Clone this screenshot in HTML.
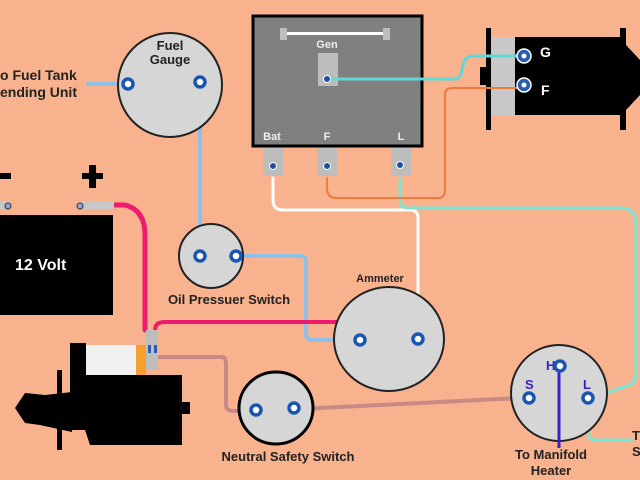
<!DOCTYPE html>
<html><head><style>
body{margin:0;width:640px;height:480px;overflow:hidden;background:#F8B28E}
svg{position:absolute;left:0;top:0}
text{font-family:"Liberation Sans",sans-serif;font-weight:bold}
</style></head><body>
<svg width="640" height="480" viewBox="0 0 640 480">
<rect width="640" height="480" fill="#F8B28E"/>
<!-- wires -->
<g fill="none" stroke-linecap="round" stroke-linejoin="round">
<path d="M88 84 H125" stroke="#8FC0EA" stroke-width="4"/>
<path d="M200 95 V248" stroke="#8FC0EA" stroke-width="4"/>
<path d="M243 256 H300 Q306 256 306 262 V334 Q306 340 312 340 H352" stroke="#8FC0EA" stroke-width="4"/>
<path d="M273 178 V200 Q273 210 283 210 H410 Q418 210 418 218 V325" stroke="#fff" stroke-width="3"/>
<path d="M400 178 V200 Q400 208 408 208 H620 Q636 208 636 224 V375 Q636 385 620 388 L596 397" stroke="#7FE6D6" stroke-width="3"/>
<path d="M588 408 V432 Q588 440 596 440 H632" stroke="#7FE6D6" stroke-width="3"/>
<path d="M112 205 H125 Q145 210 145 235 V330" stroke="#EE1C6E" stroke-width="5"/>
<path d="M155 336 V330 Q155 322 165 322 H362" stroke="#EE1C6E" stroke-width="4"/>
<path d="M158 357 H222 Q226 357 226 365 V405 Q226 411 234 411 H250" stroke="#C98A86" stroke-width="4"/>
<path d="M300 409 L520 398" stroke="#C98A86" stroke-width="4"/>
<path d="M327 178 V188 Q327 198 337 198 H438 Q445 198 445 190 V95 Q445 88 452 88 H480" stroke="#F07A3C" stroke-width="2"/>
</g>
<!-- fuel gauge -->
<circle cx="170" cy="85" r="52" fill="#D6D6D6" stroke="#222" stroke-width="2"/>
<text x="170" y="50" font-size="13" text-anchor="middle" fill="#222">Fuel</text>
<text x="170" y="64" font-size="13" text-anchor="middle" fill="#222">Gauge</text>
<text x="0" y="80" font-size="14" fill="#222">o Fuel Tank</text>
<text x="0" y="97" font-size="14" fill="#222">ending Unit</text>
<!-- regulator -->
<rect x="253" y="16" width="169" height="130" fill="#808080" stroke="#000" stroke-width="3"/>
<rect x="280" y="28" width="7" height="12" fill="#BEBEBE"/><rect x="383" y="28" width="7" height="12" fill="#BEBEBE"/>
<rect x="287" y="32" width="96" height="3" fill="#fff"/>
<text x="327" y="48" font-size="11" text-anchor="middle" fill="#eee">Gen</text>
<rect x="318" y="53" width="20" height="33" fill="#BDBDBD"/>
<text x="272" y="140" font-size="11" text-anchor="middle" fill="#eee">Bat</text>
<text x="327" y="140" font-size="11" text-anchor="middle" fill="#eee">F</text>
<text x="401" y="140" font-size="11" text-anchor="middle" fill="#eee">L</text>
<rect x="263" y="148" width="20" height="28" fill="#BDBDBD"/>
<rect x="317" y="148" width="20" height="28" fill="#BDBDBD"/>
<rect x="391" y="148" width="20" height="28" fill="#BDBDBD"/>
<!-- generator -->
<rect x="486" y="28" width="5" height="102" fill="#000"/>
<rect x="480" y="67" width="8" height="18" fill="#000"/>
<rect x="491" y="37" width="24" height="78" fill="#C8C8C8"/>
<rect x="515" y="37" width="110" height="78" fill="#000"/>
<rect x="620" y="28" width="6" height="102" fill="#000"/>
<polygon points="626,45 640,60 640,95 626,110" fill="#000"/>
<g fill="none" stroke-linecap="round" stroke-linejoin="round">
<path d="M330 79 H455 Q460 79 462 70 L464 62 Q466 56 474 56 H518" stroke="#5FD9D6" stroke-width="3"/>
<path d="M478 88 H517" stroke="#F07A3C" stroke-width="2"/>
</g>
<g fill="#1F4FA0" stroke="#fff" stroke-width="1"><circle cx="273" cy="166" r="3.5"/><circle cx="327" cy="166" r="3.5"/><circle cx="400" cy="165" r="3.5"/><circle cx="327" cy="79" r="3.5"/></g>
<g fill="#2A5DB0" stroke="#fff" stroke-width="1.5"><circle cx="524" cy="56" r="7"/><circle cx="524" cy="85" r="7"/></g>
<circle cx="524" cy="56" r="2.5" fill="#fff"/><circle cx="524" cy="85" r="2.5" fill="#fff"/>
<text x="540" y="57" font-size="14" fill="#fff" font-family="Liberation Serif">G</text>
<text x="541" y="95" font-size="14" fill="#fff" font-family="Liberation Serif">F</text>
<!-- battery -->
<rect x="0" y="215" width="113" height="100" fill="#000"/>
<text x="15" y="270" font-size="16" fill="#fff" font-weight="normal">12 Volt</text>
<rect x="0" y="173" width="11" height="6" fill="#000"/>
<rect x="82" y="173" width="21" height="6" fill="#000"/><rect x="89" y="165" width="7" height="23" fill="#000"/>
<rect x="0" y="202" width="10" height="7" fill="#C8C8C8"/><circle cx="8" cy="206" r="3" fill="#8AA8E0" stroke="#333"/>
<rect x="82" y="202" width="32" height="7" fill="#C8C8C8"/><circle cx="80" cy="206" r="3" fill="#8AA8E0" stroke="#333"/>
<!-- oil pressure switch -->
<circle cx="211" cy="256" r="32" fill="#D6D6D6" stroke="#222" stroke-width="2"/>
<text x="229" y="304" font-size="13" text-anchor="middle" fill="#222">Oil Pressuer Switch</text>
<!-- ammeter -->
<ellipse cx="389" cy="339" rx="55" ry="52" fill="#D6D6D6" stroke="#222" stroke-width="2"/>
<text x="380" y="282" font-size="11" text-anchor="middle" fill="#222">Ammeter</text>
<!-- NSS -->
<ellipse cx="276" cy="408" rx="37" ry="36" fill="#D6D6D6" stroke="#000" stroke-width="3"/>
<text x="288" y="461" font-size="13" text-anchor="middle" fill="#222">Neutral Safety Switch</text>
<!-- ignition -->
<circle cx="559" cy="393" r="48" fill="#D6D6D6" stroke="#222" stroke-width="2"/>
<path d="M559 372 V448" stroke="#3A1ECC" stroke-width="3"/>
<text x="546" y="370" font-size="13" fill="#3A1ECC">H</text>
<text x="525" y="389" font-size="13" fill="#3A1ECC">S</text>
<text x="583" y="389" font-size="13" fill="#3A1ECC">L</text>
<text x="551" y="459" font-size="13" text-anchor="middle" fill="#222">To Manifold</text>
<text x="551" y="475" font-size="13" text-anchor="middle" fill="#222">Heater</text>
<text x="632" y="440" font-size="13" fill="#222">T</text>
<text x="632" y="456" font-size="13" fill="#222">S</text>
<!-- terminals -->
<g fill="#fff" stroke="#1A55B0" stroke-width="3.5">
<circle cx="128" cy="84" r="5"/><circle cx="200" cy="82" r="5"/>
<circle cx="200" cy="256" r="5"/><circle cx="236" cy="256" r="5"/>
<circle cx="360" cy="340" r="5"/><circle cx="418" cy="339" r="5"/>
<circle cx="256" cy="410" r="5"/><circle cx="294" cy="408" r="5"/>
<circle cx="560" cy="366" r="5"/><circle cx="529" cy="398" r="5"/><circle cx="588" cy="398" r="5"/>
</g>
<!-- starter -->
<rect x="70" y="343" width="16" height="35" fill="#000"/>
<rect x="86" y="345" width="50" height="30" fill="#F0F0F0"/>
<rect x="136" y="345" width="10" height="30" fill="#F7A030"/>
<rect x="146" y="330" width="12" height="40" fill="#BDBDBD"/>
<rect x="148" y="345" width="3" height="8" fill="#2A5DB0"/><rect x="154" y="345" width="3" height="8" fill="#2A5DB0"/>
<path d="M70 375 H182 V445 H90 L85 430 H70 Z" fill="#000"/>
<rect x="182" y="402" width="8" height="12" fill="#000"/>
<polygon points="15,408 25,393 45,395 72,392 72,432 40,425 25,423" fill="#000"/>
<rect x="57" y="370" width="5" height="80" fill="#000"/>
</svg>
</body></html>
